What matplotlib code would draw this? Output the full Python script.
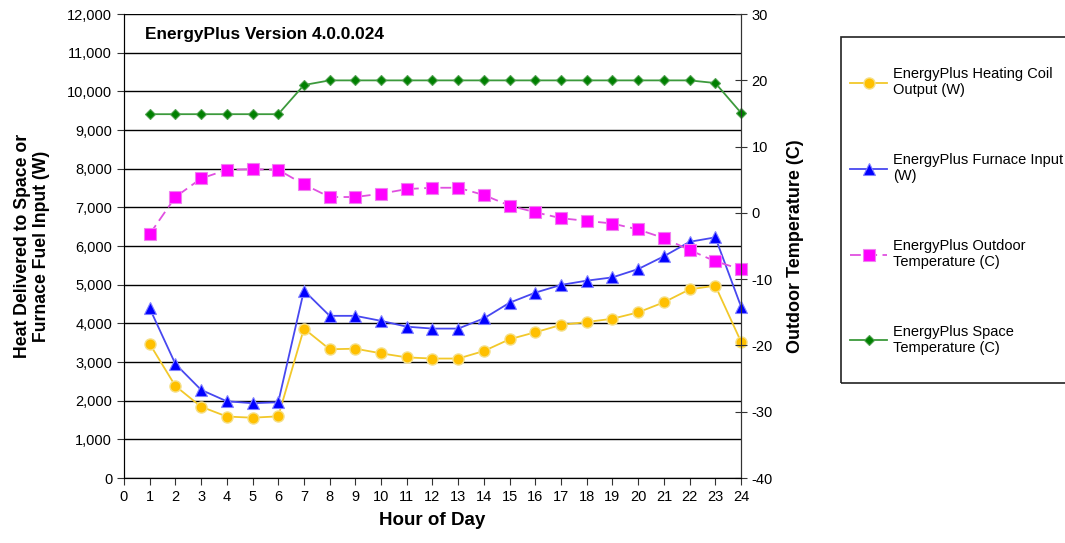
import numpy as np
import matplotlib
matplotlib.use("Agg")
from matplotlib import pyplot as plt
from matplotlib.patches import Rectangle

plt.rcParams['font.family'] = ['Liberation Sans', 'DejaVu Sans']
plt.rcParams['axes.unicode_minus'] = False

hours = list(range(1, 25))

coil_output = [3470, 2380, 1845, 1590, 1560, 1595, 3865, 3330, 3345, 3225, 3120, 3090,
               3090, 3285, 3590, 3770, 3960, 4035, 4120, 4285, 4545, 4880, 4975, 3525]
furnace_input = [4390, 2950, 2280, 1985, 1935, 1960, 4850, 4195, 4195, 4065, 3915, 3865,
                 3865, 4130, 4535, 4795, 4995, 5105, 5190, 5405, 5735, 6110, 6225, 4435]
outdoor_temp = [-3.2, 2.4, 5.2, 6.5, 6.6, 6.5, 4.3, 2.4, 2.4, 2.9, 3.6, 3.8,
                3.8, 2.7, 1.1, 0.1, -0.8, -1.2, -1.6, -2.5, -3.8, -5.6, -7.3, -8.5]
space_temp = [14.9, 14.9, 14.9, 14.9, 14.9, 14.9, 19.3, 20.0, 20.0, 20.0, 20.0, 20.0,
              20.0, 20.0, 20.0, 20.0, 20.0, 20.0, 20.0, 20.0, 20.0, 20.0, 19.6, 15.1]

labels = ["EnergyPlus Heating Coil\nOutput (W)",
          "EnergyPlus Furnace Input\n(W)",
          "EnergyPlus Outdoor\nTemperature (C)",
          "EnergyPlus Space\nTemperature (C)"]

fig = plt.figure(figsize=(10.65, 5.43), dpi=100)
ax = fig.add_axes([0.1164, 0.1197, 0.5794, 0.8543])
ax2 = ax.twinx()

# left axis
ax.set_xlim(0, 24)
ax.set_ylim(0, 12000)
ax.set_xticks(range(0, 25))
ax.set_yticks(range(0, 12001, 1000))
ax.set_yticklabels(["{:,}".format(v) for v in range(0, 12001, 1000)])
ax.yaxis.grid(True, color="black", linewidth=1.0)
ax.set_axisbelow(True)
ax.tick_params(axis="both", labelsize=10.5, direction="out", length=5, color="#333333")
ax.set_xlabel("Hour of Day", fontsize=13.5, fontweight="bold", labelpad=6)
ax.set_ylabel("Heat Delivered to Space or\nFurnace Fuel Input (W)", fontsize=12.7,
              fontweight="bold", labelpad=12)
ax.spines["top"].set_visible(False)
for s in ["left", "bottom", "right"]:
    ax.spines[s].set_color("#333333")

# right axis
ax2.set_ylim(-40, 30)
ax2.set_yticks(range(-40, 31, 10))
ax2.tick_params(axis="y", labelsize=10.5, direction="inout", length=8, color="#333333")
ax2.set_ylabel("Outdoor Temperature (C)", fontsize=13, fontweight="bold", labelpad=10)
ax2.spines["top"].set_visible(False)
ax2.spines["right"].set_color("#333333")

h1, = ax.plot(hours, coil_output, color="#F2C82A", lw=1.3, marker="o", ms=8,
              mfc="#FFC000", mec="#F5E08A", mew=1.0, clip_on=False, zorder=3)
h2, = ax.plot(hours, furnace_input, color="#4848F0", lw=1.3, marker="^", ms=8,
              mfc="#0000FF", mec="#8080FF", mew=0.8, clip_on=False, zorder=3)
h3, = ax2.plot(hours, outdoor_temp, color="#E050E0", lw=1.3, ls=(0, (6, 3)), marker="s", ms=8,
               mfc="#FF00FF", mec="#F080F0", mew=0.8, clip_on=False)
h4, = ax2.plot(hours, space_temp, color="#3C9A3C", lw=1.3, marker="D", ms=5.5,
               mfc="#008000", mec="#50A050", mew=0.8, clip_on=False)

ax.text(0.034, 0.955, "EnergyPlus Version 4.0.0.024", transform=ax.transAxes,
        fontsize=12.4, fontweight="bold", va="center", ha="left")

# legend box, cut off at the right edge
fig.patches.append(Rectangle((0.7897, 0.2947), 0.25, 0.637, transform=fig.transFigure,
                             fill=False, edgecolor="#222222", linewidth=1.2))
fig.legend([h1, h2, h3, h4], labels, loc="upper left", bbox_to_anchor=(0.793, 0.887),
           frameon=False, fontsize=10.5, labelspacing=3.82, handlelength=2.5,
           handletextpad=0.4, borderaxespad=0)

fig.savefig("out.png", dpi=100)
